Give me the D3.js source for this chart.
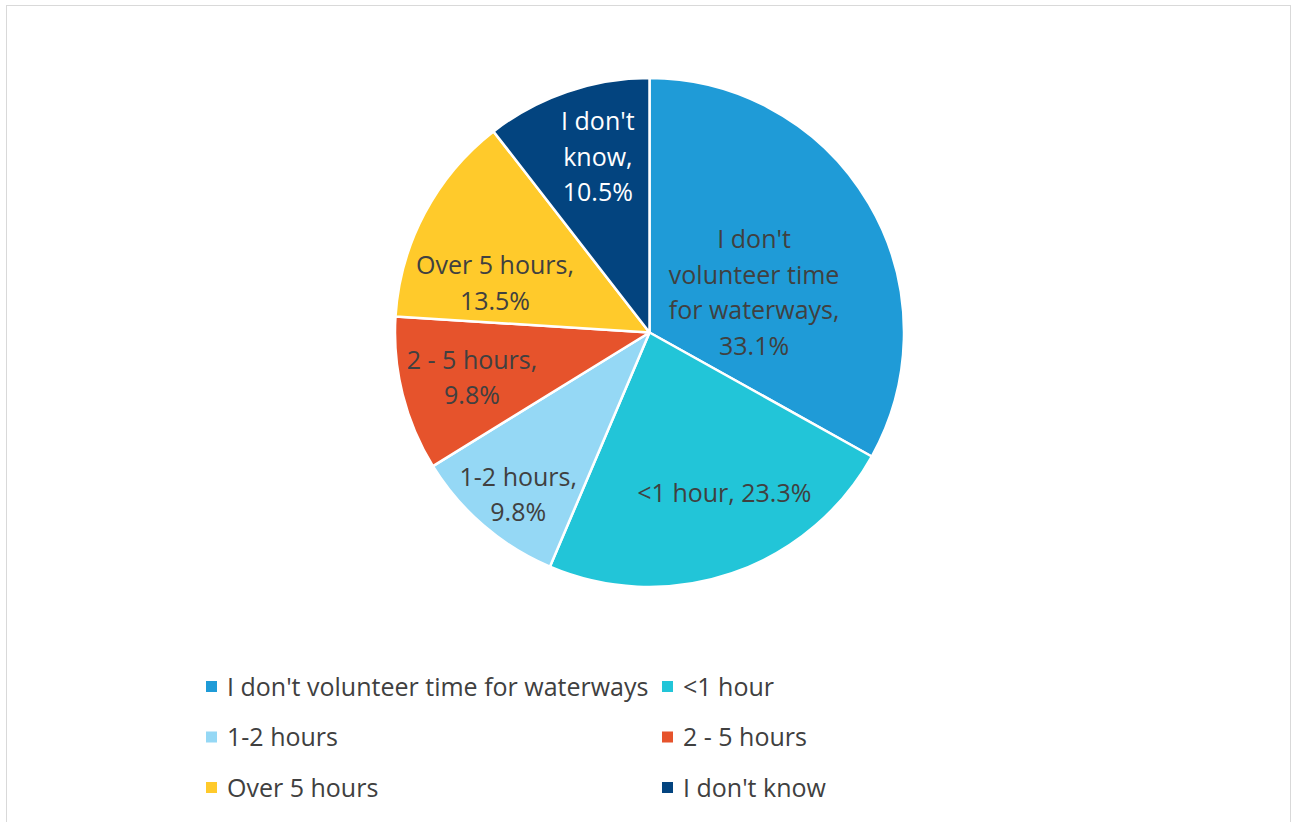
<!DOCTYPE html>
<html>
<head>
<meta charset="utf-8">
<script src="https://cdn.jsdelivr.net/npm/d3@7"></script>
<style>
  body { margin: 0; background: #fff; }
  svg text { font-family: "Open Sans", "Noto Sans", sans-serif; }
</style>
</head>
<body>
<svg id="chart"></svg>
<script>
// data
const categories = ["I don't volunteer time for waterways", "<1 hour", "1-2 hours", "2 - 5 hours", "Over 5 hours", "I don't know"];
const values = [33.1, 23.3, 9.8, 9.8, 13.5, 10.5];
const colors = ["#1f9bd7", "#22c5d8", "#95d8f5", "#e6532c", "#ffca2b", "#03447f"];
// how each slice label is wrapped inside the pie
const labelLines = [
  ["I don't", "volunteer time", "for waterways,", "33.1%"],
  ["<1 hour, 23.3%"],
  ["1-2 hours,", "9.8%"],
  ["2 - 5 hours,", "9.8%"],
  ["Over 5 hours,", "13.5%"],
  ["I don't", "know,", "10.5%"]
];

let width = 1292;
let height = 822;
let cx = 649.5;
let cy = 332.5;
let radius = 254.5;
let fontSize = 25;
let lineH = 35.5;

// label placement (fraction of radius, angle nudge in degrees), like Excel best fit
const labelPlace = [[0.44, 9.5], [0.696, -6.1], [0.82, -1.7], [0.72, -0.3], [0.637, -10.3], [0.719, 2.5]];

const svg = d3.select('#chart').attr('width', width).attr('height', height);

// outer chart border
svg.append('rect').attr('x', 6.5).attr('y', 5.5).attr('width', 1284).attr('height', 830)
  .attr('fill', 'none').attr('stroke', '#d9d9d9').attr('stroke-width', 1);

const pie = d3.pie().sort(null).value(d => d);
const arcs = pie(values);
const arc = d3.arc().innerRadius(0).outerRadius(radius);

const g = svg.append('g').attr('transform', `translate(${cx},${cy})`);

g.selectAll('path').data(arcs).enter().append('path')
  .attr('d', arc)
  .attr('fill', (d, i) => colors[i])
  .attr('stroke', '#fff')
  .attr('stroke-width', 2.5)
  .attr('stroke-linejoin', 'round');

const labels = g.selectAll('text.lbl').data(arcs).enter().append('text')
  .attr('class', 'lbl')
  .attr('text-anchor', 'middle')
  .attr('font-size', fontSize)
  .attr('fill', (d, i) => i === 5 ? '#ffffff' : '#404040')
  .attr('transform', (d, i) => {
    let a = (d.startAngle + d.endAngle) / 2 + labelPlace[i][1] * Math.PI / 180;
    let r = radius * labelPlace[i][0];
    return `translate(${r * Math.sin(a)},${-r * Math.cos(a)})`;
  });

labels.each(function(d, i) {
  let lines = labelLines[i];
  let t = d3.select(this);
  lines.forEach((ln, k) => {
    t.append('tspan').attr('x', 0)
      .attr('y', (k - (lines.length - 1) / 2) * lineH)
      .attr('dy', '0.35em')
      .text(ln);
  });
});

// legend, two columns
const legX = [206, 662];
const legY = [687, 737.5, 788];
const legend = svg.selectAll('g.leg').data(categories).enter().append('g')
  .attr('class', 'leg')
  .attr('transform', (d, i) => `translate(${legX[i % 2]},${legY[Math.floor(i / 2)]})`);

legend.append('rect').attr('x', 0).attr('y', -6).attr('width', 11).attr('height', 11)
  .attr('fill', (d, i) => colors[i]);

legend.append('text').attr('x', 21).attr('dy', '0.35em')
  .attr('font-size', fontSize).attr('fill', '#404040')
  .text(d => d);
</script>
</body>
</html>
